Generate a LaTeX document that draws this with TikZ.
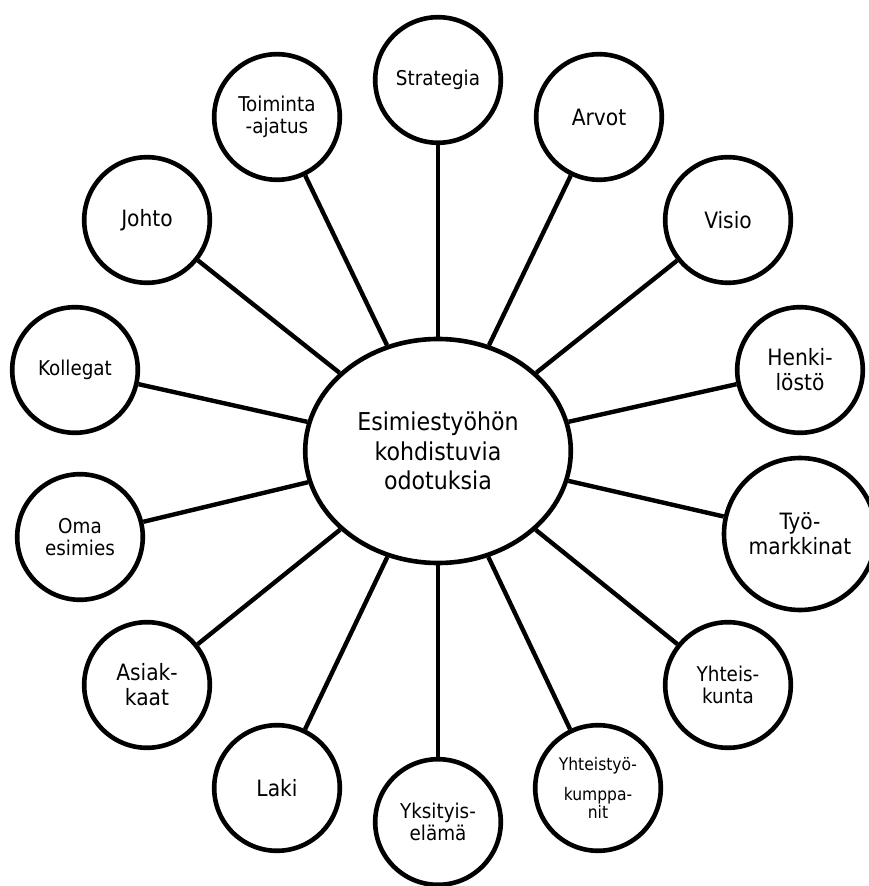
\documentclass[tikz,border=0pt]{standalone}
\usepackage{fontspec}
\setmainfont{DejaVu Sans Condensed}
\usetikzlibrary{shapes.geometric}

\begin{document}
\begin{tikzpicture}[
    bubble/.style={draw,circle,line width=0.115cm,minimum size=3.14cm,inner sep=0pt,align=center},
    med/.style={font=\fontsize{16}{17.8}\selectfont},
    sml/.style={font=\fontsize{14.5}{15.4}\selectfont},
    tny/.style={font=\fontsize{12.3}{12.8}\selectfont},
    hub/.style={draw,ellipse,line width=0.115cm,minimum width=6.64cm,minimum height=5.6cm,inner sep=0pt,align=center,font=\fontsize{17.5}{21}\selectfont},
    spoke/.style={line width=0.11cm}]
        \useasboundingbox (-10.95,-10.875) rectangle (10.75,11.275);
        \node[hub] (hub) at (0,0) {Esimiestyöhön\\kohdistuvia\\odotuksia};
        \node[bubble,sml] (strategia) at (0,9.275) {Strategia};
        \node[bubble,sml] (toiminta) at (-4.025,8.35) {Toiminta\\-ajatus};
        \node[bubble,med] (arvot) at (4.025,8.35) {Arvot};
        \node[bubble,med] (johto) at (-7.275,5.775) {Johto};
        \node[bubble,med] (visio) at (7.25,5.775) {Visio};
        \node[bubble,sml] (kollegat) at (-9.075,2.025) {Kollegat};
        \node[bubble,med] (henkilosto) at (9.05,2.025) {Henki-\\löstö};
        \node[bubble,sml] (esimies) at (-8.95,-2.15) {Oma\\esimies};
        \node[bubble,med,minimum size=3.8cm] (markkinat) at (9.05,-2.075) {Työ-\\markkinat};
        \node[bubble,med] (asiakkaat) at (-7.275,-5.85) {Asiak-\\kaat};
        \node[bubble,sml] (yhteiskunta) at (7.25,-5.85) {Yhteis-\\kunta};
        \node[bubble,med] (laki) at (-4.025,-8.425) {Laki};
        \node[bubble,sml] (yksityis) at (0,-9.275) {Yksityis-\\elämä};
        \node[bubble,tny] (kumppanit) at (4.0,-8.425) {Yhteistyö-\\[8pt]kumppa-\\nit};
        \foreach \n in {strategia,toiminta,arvot,johto,visio,kollegat,henkilosto,esimies,markkinat,asiakkaat,yhteiskunta,laki,yksityis,kumppanit}
            \draw[spoke] (hub) -- (\n);
\end{tikzpicture}
\end{document}
